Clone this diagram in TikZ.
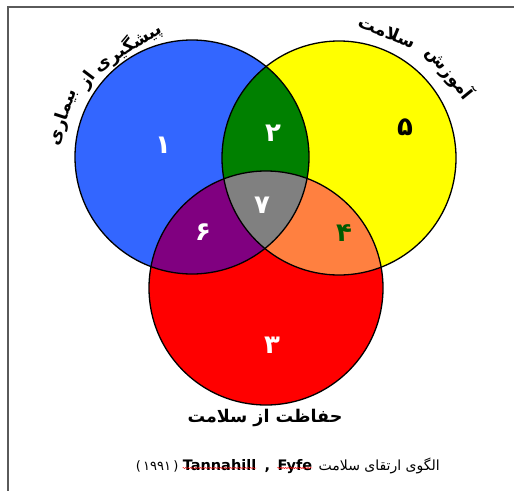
\documentclass[tikz,border=0pt]{standalone}
\usepackage{fontspec}
\usetikzlibrary{calc,decorations.pathmorphing}
\TeXXeTstate=1
\newfontfamily\arabicfont[Script=Arabic]{DejaVu Sans}
\newfontfamily\capfont{DejaVu Sans}
\definecolor{vblue}{RGB}{51,102,255}
\definecolor{vyellow}{RGB}{255,255,0}
\definecolor{vred}{RGB}{255,0,0}
\definecolor{vgreen}{RGB}{0,128,0}
\definecolor{vpurple}{RGB}{128,0,128}
\definecolor{vorange}{RGB}{255,128,64}
\definecolor{vgray}{RGB}{128,128,128}
\definecolor{numgreen}{RGB}{0,90,0}
\definecolor{framegray}{RGB}{90,90,90}
\begin{document}
\begin{tikzpicture}[x=1pt,y=-1pt,
  outline/.style={draw=black,line width=1.3pt},
  num/.style={font=\arabicfont\bfseries\fontsize{26}{30}\selectfont,inner sep=0pt},
  arclbl/.style={font=\arabicfont\bfseries\fontsize{17.5}{21}\selectfont,inner sep=0pt,anchor=center},
  caplat/.style={font=\capfont\bfseries\fontsize{14.5}{16}\selectfont,inner sep=0pt,anchor=base east},
  framebox/.style={draw=framegray,line width=1.4pt},
  spell/.style={draw=red,line width=0.4pt,decorate,decoration={snake,amplitude=0.6pt,segment length=2.5pt}}]
\useasboundingbox (0,0) rectangle (514,490);
\fill[white] (0,0) rectangle (514,490);
\draw[framebox] (8,495) -- (8,7) -- (520,7);
\coordinate (B) at (192,157);
\coordinate (Y) at (339,158);
\coordinate (R) at (266,288);
\def\rad{117pt}
\fill[vblue] (B) circle[radius=\rad];
\fill[vyellow] (Y) circle[radius=\rad];
\fill[vred] (R) circle[radius=\rad];
\begin{scope}\clip (B) circle[radius=\rad]; \fill[vgreen] (Y) circle[radius=\rad];\end{scope}
\begin{scope}\clip (B) circle[radius=\rad]; \fill[vpurple] (R) circle[radius=\rad];\end{scope}
\begin{scope}\clip (Y) circle[radius=\rad]; \fill[vorange] (R) circle[radius=\rad];\end{scope}
\begin{scope}\clip (B) circle[radius=\rad]; \clip (Y) circle[radius=\rad]; \fill[vgray] (R) circle[radius=\rad];\end{scope}
\draw[outline] (B) circle[radius=\rad];
\draw[outline] (Y) circle[radius=\rad];
\draw[outline] (R) circle[radius=\rad];
% region numbers
\node[num,text=white] (n1) at (163,145) {۱};
\node[num,text=white] (n2) at (273,133) {۲};
\node[num,text=black] (n5) at (405,127) {۵};
\node[num,text=white] (n7) at (262,205) {۷};
\node[num,text=white] (n6) at (203,232) {۶};
\node[num,text=numgreen] (n4) at (344,233) {۴};
\node[num,text=white] (n3) at (272,345) {۳};
% curved labels
\node[arclbl,rotate=32] (w1) at (128,47) {پیشگیری};
\node[arclbl,rotate=53] (w2) at (88,80) {از};
\node[arclbl,rotate=72] (w3) at (63,117) {بیماری};
\node[arclbl,rotate=-22] (w4) at (387,32) {سلامت};
\node[arclbl,rotate=-51] (w5) at (450,73) {آموزش};
% bottom label
\node[arclbl] (lbl3) at (265,418) {\beginR حفاظت از سلامت\endR};
% caption
\node[font=\arabicfont\fontsize{14}{16}\selectfont,inner sep=0pt,anchor=base east] (capa) at (440,470) {\beginR الگوی ارتقای سلامت\endR};
\node[caplat] (fyfe) at ([xshift=-6pt]capa.base west) {Fyfe};
\node[caplat] (comma) at ([xshift=-7pt]fyfe.base west) {,};
\node[caplat] (tann) at ([xshift=-8pt]comma.base west) {Tannahill};
\node[font=\capfont\fontsize{13}{15}\selectfont,inner sep=0pt,anchor=base east] (year) at ([xshift=-4pt]tann.base west) {(\,{\arabicfont ۱۹۹۱}\,)};
\draw[spell] ([yshift=2pt]tann.base west) -- ([yshift=2pt]tann.base east);
\draw[spell] ([yshift=2pt]fyfe.base west) -- ([yshift=2pt]fyfe.base east);
\end{tikzpicture}
\end{document}
